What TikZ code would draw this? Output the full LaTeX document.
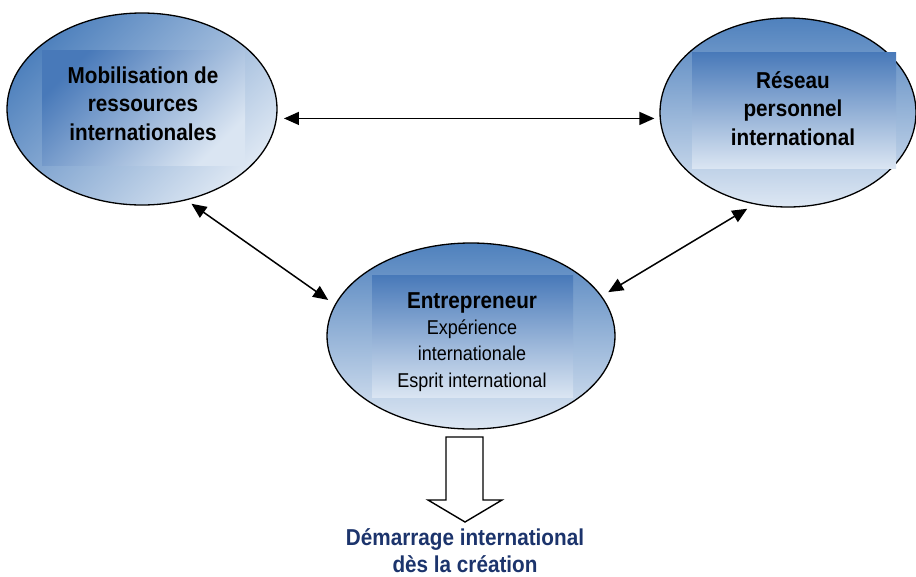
\documentclass[tikz,border=0pt]{standalone}
\usepackage{fontspec}
\setmainfont{Liberation Sans}[FakeStretch=0.9]
\usetikzlibrary{arrows.meta,shapes.geometric}
\definecolor{dkblue}{RGB}{79,129,189}
\definecolor{ltblue}{RGB}{221,231,243}
\definecolor{rdkblue}{RGB}{72,121,185}
\definecolor{rltblue}{RGB}{218,229,242}
\definecolor{navy}{RGB}{28,52,108}
\begin{document}
\begin{tikzpicture}[x=1pt,y=-1pt,
  ell/.style={ellipse, draw=black, line width=1.3pt, inner sep=0pt},
  vshade/.style={top color=dkblue, bottom color=ltblue},
  dshade/.style={top color=dkblue, bottom color=ltblue, shading angle=45},
  link/.style={{Triangle[length=15pt,width=13pt]}-{Triangle[length=15pt,width=13pt]}, line width=1.5pt},
  boldtxt/.style={font=\fontsize{23}{28.5}\selectfont\bfseries, align=center, anchor=base},
  blockarrow/.style={draw=black, line width=1.4pt, fill=white, line join=miter}
]
\useasboundingbox (0,0) rectangle (916,576);
\fill[white] (0,0) rectangle (916,576);
% ellipse fills
\shade[dshade] (142,109) ellipse [x radius=135pt, y radius=96pt];
\shade[vshade] (788,112.5) ellipse [x radius=128pt, y radius=94.5pt];
\shade[vshade] (471,336) ellipse [x radius=144pt, y radius=93pt];
% ellipse outlines
\node[ell, minimum width=270pt, minimum height=192pt] (L) at (142,109) {};
\node[ell, minimum width=256pt, minimum height=189pt] (R) at (788,112.5) {};
\node[ell, minimum width=288pt, minimum height=186pt] (C) at (471,336) {};
% inner rectangles
\shade[top color=rdkblue, bottom color=rltblue, shading angle=45] (42,50) rectangle (245,165);
\shade[top color=rdkblue, bottom color=rltblue] (692,52) rectangle (896,168);
\shade[top color=rdkblue, bottom color=rltblue] (372,275) rectangle (573,397);
% texts (base anchor = last line)
\node[boldtxt] (LT) at (143,140) {Mobilisation de\\ressources\\internationales};
\node[boldtxt] (RT) at (793,145) {Réseau\\personnel\\international};
\node[align=center, anchor=base, font=\fontsize{20}{26.3}\selectfont] (CT) at (472,387)
  {{\fontsize{23}{26.3}\selectfont\bfseries Entrepreneur}\\Expérience\\internationale\\Esprit international};
% block arrow
\draw[blockarrow] (446,437) -- (483,437) -- (483,500) -- (502,500) -- (465,522) -- (428,500) -- (446,500) -- cycle;
\node[boldtxt, text=navy, font=\fontsize{23}{27}\selectfont\bfseries] (D) at (465,572) {Démarrage international\\dès la création};
% links
\draw[link, shorten <=7pt, shorten >=5pt] (L.-4) -- (L.-4 -| R.west);
\draw[link, shorten <=6pt, shorten >=8pt] (L.-64) -- (C.167);
\draw[link, shorten <=7.5pt, shorten >=8.5pt] (C.17) -- (R.-110);
\end{tikzpicture}
\end{document}
